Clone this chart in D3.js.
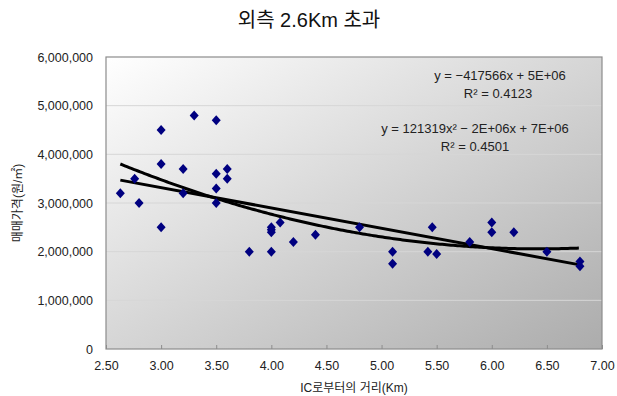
<!DOCTYPE html>
<html>
<head>
<meta charset="utf-8">
<script src="https://cdn.jsdelivr.net/npm/d3@7"></script>
<style>
  body { margin: 0; background: #fff; }
  svg text { font-family: "Liberation Sans", "Noto Sans CJK KR", sans-serif; }
</style>
</head>
<body>
<svg id="chart" width="617" height="396"></svg>
<script>
// distance from IC (Km) and price (won / m2)
const distance = [2.63, 2.76, 2.80, 3.00, 3.00, 3.00, 3.20, 3.20, 3.30, 3.50, 3.50, 3.50, 3.50,
                  3.60, 3.60, 3.80, 4.00, 4.00, 4.00, 4.00, 4.08, 4.20, 4.40, 4.80, 5.10, 5.10,
                  5.42, 5.46, 5.50, 5.80, 6.00, 6.00, 6.20, 6.50, 6.80, 6.80];
const price = [3200000, 3500000, 3000000, 4500000, 3800000, 2500000, 3700000, 3200000, 4800000,
               4700000, 3600000, 3300000, 3000000, 3700000, 3500000, 2000000, 2500000, 2450000,
               2400000, 2000000, 2600000, 2200000, 2350000, 2500000, 2000000, 1750000, 2000000,
               2500000, 1950000, 2200000, 2600000, 2400000, 2400000, 2000000, 1800000, 1700000];

// trendline coefficients (intercepts are rounded in the labels, estimated from the lines)
const linCoef = [4568000, -417566];            // c0 + c1*x
const quadCoef = [7060000, -1558000, 121319];  // c0 + c1*x + c2*x^2

const xTicks = [2.5, 3, 3.5, 4, 4.5, 5, 5.5, 6, 6.5, 7];
const yTicks = [0, 1000000, 2000000, 3000000, 4000000, 5000000, 6000000];

const titleText = "외측 2.6Km 초과";
const xTitle = "IC로부터의 거리(Km)";
const yTitle = "매매가격(원/㎡)";
const linLabel = ["y = −417566x + 5E+06", "R² = 0.4123"];
const quadLabel = ["y = 121319x² − 2E+06x + 7E+06", "R² = 0.4501"];

const data = distance.map((d, i) => ({x: d, y: price[i]}));

const lin = v => linCoef[0] + linCoef[1] * v;
const quad = v => quadCoef[0] + quadCoef[1] * v + quadCoef[2] * v * v;

const svg = d3.select("#chart");
const plotL = 106, plotR = 602, plotT = 57, plotB = 349;

const x = d3.scaleLinear().domain([2.5, 7]).range([plotL, plotR]);
const y = d3.scaleLinear().domain([0, 6000000]).range([plotB, plotT]);

const grad = svg.append("defs").append("linearGradient")
    .attr("id", "bg")
    .attr("x1", 0).attr("y1", 0).attr("x2", 1).attr("y2", 1);
grad.append("stop").attr("offset", "0%").attr("stop-color", "#ffffff");
grad.append("stop").attr("offset", "100%").attr("stop-color", "#acacac");

svg.append("rect")
    .attr("x", plotL).attr("y", plotT)
    .attr("width", plotR - plotL).attr("height", plotB - plotT)
    .attr("fill", "url(#bg)");

// gridlines
svg.append("g")
    .selectAll("line")
    .data(yTicks.slice(1, -1))
    .join("line")
    .attr("x1", plotL).attr("x2", plotR)
    .attr("y1", d => y(d)).attr("y2", d => y(d))
    .attr("stroke", "#d6d6d6")
    .attr("stroke-width", 1);

svg.append("rect")
    .attr("x", plotL).attr("y", plotT)
    .attr("width", plotR - plotL).attr("height", plotB - plotT)
    .attr("fill", "none")
    .attr("stroke", "#8c8c8c")
    .attr("stroke-width", 1.2);

// x axis
const xAxis = d3.axisBottom(x)
    .tickValues(xTicks)
    .tickSizeInner(-4)
    .tickSizeOuter(0)
    .tickPadding(12)
    .tickFormat(d3.format(".2f"));

svg.append("g")
    .attr("transform", `translate(0,${plotB})`)
    .call(xAxis)
    .call(g => g.select(".domain").remove())
    .call(g => g.selectAll("line").attr("stroke", "#8c8c8c"))
    .call(g => g.selectAll("text").attr("font-size", 12.5).attr("fill", "#222"));

// y axis
const yAxis = d3.axisLeft(y)
    .tickValues(yTicks)
    .tickSize(0)
    .tickPadding(13)
    .tickFormat(d3.format(","));

svg.append("g")
    .attr("transform", `translate(${plotL},0)`)
    .call(yAxis)
    .call(g => g.select(".domain").remove())
    .call(g => g.selectAll("text").attr("font-size", 12.5).attr("fill", "#222"));

// trendlines
const xr = d3.extent(distance);
const xs = d3.range(xr[0], xr[1] + 0.001, 0.02);

const line = d3.line().x(d => x(d[0])).y(d => y(d[1]));

svg.append("path")
    .attr("fill", "none")
    .attr("stroke", "#000")
    .attr("stroke-width", 3)
    .attr("d", line([[xr[0], lin(xr[0])], [xr[1], lin(xr[1])]]));

svg.append("path")
    .attr("fill", "none")
    .attr("stroke", "#000")
    .attr("stroke-width", 3)
    .attr("d", line(xs.map(v => [v, quad(v)])));

// points
svg.append("g")
    .selectAll("path")
    .data(data)
    .join("path")
    .attr("transform", d => `translate(${x(d.x)},${y(d.y)})`)
    .attr("d", "M0,-5L4.5,0L0,5L-4.5,0Z")
    .attr("fill", "#000080");

// equations
svg.append("g")
    .selectAll("text")
    .data([[linLabel[0], 500, 80], [linLabel[1], 498, 98], [quadLabel[0], 475, 133], [quadLabel[1], 475, 151]])
    .join("text")
    .attr("x", d => d[1]).attr("y", d => d[2])
    .attr("text-anchor", "middle")
    .attr("font-size", 13)
    .attr("fill", "#222")
    .text(d => d[0]);

// titles
svg.append("text")
    .attr("x", 309).attr("y", 27)
    .attr("text-anchor", "middle")
    .attr("font-size", 20)
    .attr("fill", "#111")
    .text(titleText);

svg.append("text")
    .attr("x", 354).attr("y", 392)
    .attr("text-anchor", "middle")
    .attr("font-size", 12)
    .attr("fill", "#222")
    .text(xTitle);

svg.append("text")
    .attr("transform", "translate(22,203) rotate(-90)")
    .attr("text-anchor", "middle")
    .attr("font-size", 12)
    .attr("fill", "#222")
    .text(yTitle);
</script>
</body>
</html>
